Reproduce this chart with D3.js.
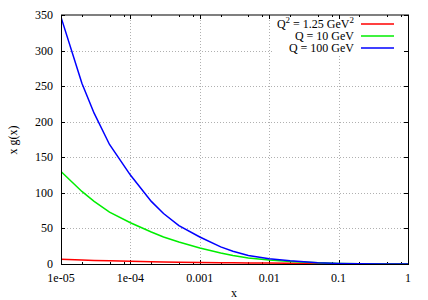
<!DOCTYPE html>
<html>
<head>
<meta charset="utf-8">
<script src="https://cdn.jsdelivr.net/npm/d3@7"></script>
<style>
body { margin: 0; background: #fff; }
text { font-family: "Liberation Serif", "DejaVu Serif", serif; font-size: 12px; fill: #000; }
</style>
</head>
<body>
<svg id="chart" width="428" height="300"></svg>
<script>
// x values shared by all three curves
var xValues = [1e-5, 2e-5, 3e-5, 5e-5, 1e-4, 2e-4, 3e-4, 5e-4, 1e-3, 2e-3, 3e-3, 5e-3, 1e-2, 2e-2, 5e-2, 0.1, 0.2, 0.5, 1]
var gLow = [6.8, 5.6, 5.0, 4.4, 3.7, 3.1, 2.8, 2.5, 2.1, 1.8, 1.6, 1.45, 1.25, 1.0, 0.7, 0.45, 0.25, 0.05, 0]
var g10 = [130, 102, 88, 73, 58, 45, 38, 31, 22.5, 15.5, 12, 8.5, 5.5, 3.5, 1.7, 0.8, 0.35, 0.05, 0]
var g100 = [347, 254, 212, 168, 125, 88, 71, 54, 38, 24, 18, 12, 7.5, 4.5, 1.8, 0.8, 0.3, 0.03, 0]

var seriesNames = ['Q2', 'Q = 10 GeV', 'Q = 100 GeV']
var seriesColors = ['#ff0000', '#00ee00', '#0000ff']
var seriesValues = [gLow, g10, g100]

var xTickValues = [1e-5, 1e-4, 1e-3, 1e-2, 0.1, 1]
var xTickLabels = ['1e-05', '1e-04', '0.001', '0.01', '0.1', '1']
var yTickValues = [0, 50, 100, 150, 200, 250, 300, 350]

var svg = d3.select('#chart')
var plotLeft = 61, plotRight = 408, plotTop = 15, plotBottom = 264

var xScale = d3.scaleLog().domain([1e-5, 1]).range([plotLeft, plotRight])
var yScale = d3.scaleLinear().domain([0, 350]).range([plotBottom, plotTop])

// grid
var grid = svg.append('g')
    .style('stroke', '#b0b0b0')
    .style('stroke-width', 1)
    .style('stroke-dasharray', '1,2')
grid.selectAll('.gx')
    .data(xTickValues.slice(1, -1))
    .enter()
    .append('line')
    .attr('x1', function(d) { return Math.round(xScale(d)) + 0.5 })
    .attr('x2', function(d) { return Math.round(xScale(d)) + 0.5 })
    .attr('y1', plotBottom)
    .attr('y2', plotTop)
grid.selectAll('.gy')
    .data(yTickValues.slice(1, -1))
    .enter()
    .append('line')
    .attr('y1', function(d) { return Math.round(yScale(d)) + 0.5 })
    .attr('y2', function(d) { return Math.round(yScale(d)) + 0.5 })
    .attr('x1', plotLeft)
    .attr('x2', plotRight)

// legend box hides the grid under it
svg.append('rect')
    .attr('x', 272).attr('y', plotTop + 1)
    .attr('width', 134).attr('height', 40)
    .style('fill', '#fff')

// ticks (inside, mirrored)
var minorTicks = []
xTickValues.slice(0, -1).forEach(function(d) {
    [2, 5, 8].forEach(function(m) { minorTicks.push(d * m) })
})
var ticks = svg.append('g').style('stroke', '#000').style('stroke-width', 1)
function addXTicks(vals, len) {
    vals.forEach(function(d) {
        var px = Math.round(xScale(d)) + 0.5
        ticks.append('line').attr('x1', px).attr('x2', px).attr('y1', plotBottom).attr('y2', plotBottom - len)
        ticks.append('line').attr('x1', px).attr('x2', px).attr('y1', plotTop).attr('y2', plotTop + len)
    })
}
addXTicks(xTickValues, 4)
addXTicks(minorTicks, 2)
yTickValues.forEach(function(d) {
    var py = Math.round(yScale(d)) + 0.5
    ticks.append('line').attr('x1', plotLeft).attr('x2', plotLeft + 4).attr('y1', py).attr('y2', py)
    ticks.append('line').attr('x1', plotRight).attr('x2', plotRight - 4).attr('y1', py).attr('y2', py)
})

// curves
var line = d3.line()
    .x(function(d, i) { return xScale(xValues[i]) })
    .y(function(d) { return yScale(d) })
svg.append('defs').append('clipPath').attr('id', 'clip')
    .append('rect').attr('x', plotLeft).attr('y', plotTop)
    .attr('width', plotRight - plotLeft).attr('height', plotBottom - plotTop)
svg.append('g').attr('clip-path', 'url(#clip)')
    .selectAll('path')
    .data(seriesValues)
    .enter()
    .append('path')
    .attr('d', line)
    .style('fill', 'none')
    .style('stroke', function(d, i) { return seriesColors[i] })
    .style('stroke-width', 1.5)

// frame
svg.append('rect')
    .attr('x', plotLeft + 0.5).attr('y', plotTop)
    .attr('width', plotRight - plotLeft).attr('height', plotBottom - plotTop + 0.5)
    .style('fill', 'none')
    .style('stroke', '#000')
    .style('stroke-width', 1)

// axis labels
svg.selectAll('.xl')
    .data(xTickValues)
    .enter()
    .append('text')
    .attr('x', function(d) { return xScale(d) })
    .attr('y', 282)
    .attr('text-anchor', 'middle')
    .text(function(d, i) { return xTickLabels[i] })
svg.selectAll('.yl')
    .data(yTickValues)
    .enter()
    .append('text')
    .attr('x', 53)
    .attr('y', function(d) { return yScale(d) + 4 })
    .attr('text-anchor', 'end')
    .text(function(d) { return d })

svg.append('text').attr('x', 234).attr('y', 297).attr('text-anchor', 'middle').text('x')
svg.append('text')
    .attr('transform', 'translate(17,140) rotate(-90)')
    .attr('text-anchor', 'middle')
    .text('x g(x)')

// legend
var legendY = [24, 36, 48]
var legend = svg.selectAll('.lg')
    .data(seriesNames)
    .enter()
    .append('g')
legend.append('line')
    .attr('x1', 361).attr('x2', 394)
    .attr('y1', function(d, i) { return legendY[i] })
    .attr('y2', function(d, i) { return legendY[i] })
    .style('stroke', function(d, i) { return seriesColors[i] })
    .style('stroke-width', 1.5)
legend.append('text')
    .attr('x', 354)
    .attr('y', function(d, i) { return legendY[i] + 4 })
    .attr('text-anchor', 'end')
    .each(function(d) {
        var t = d3.select(this)
        if (d === 'Q2') {
            t.append('tspan').text('Q')
            t.append('tspan').attr('dy', -5).style('font-size', '9px').text('2')
            t.append('tspan').attr('dy', 5).text(' = 1.25 GeV')
            t.append('tspan').attr('dy', -5).style('font-size', '9px').text('2')
        } else {
            t.text(d)
        }
    })
</script>
</body>
</html>
